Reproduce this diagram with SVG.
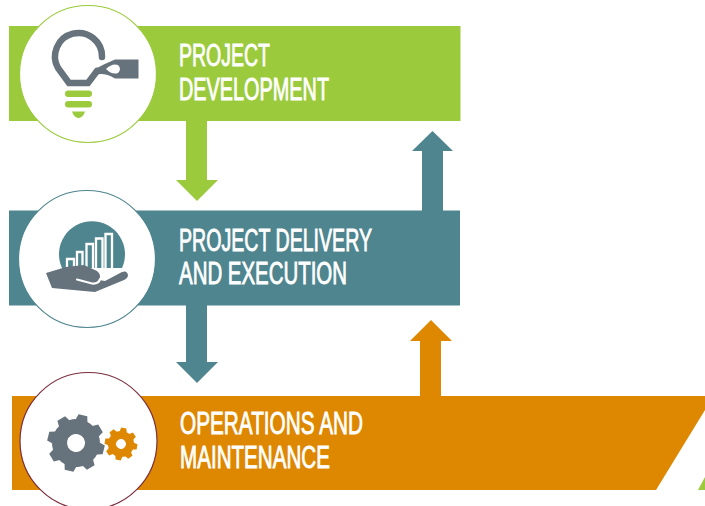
<svg xmlns="http://www.w3.org/2000/svg" xmlns:xlink="http://www.w3.org/1999/xlink" width="705" height="506" viewBox="0 0 705 506">
<style>
.t{font-family:"Liberation Sans",Arial,sans-serif;font-size:32px;fill:#fff;stroke:#fff;stroke-width:.9}
.c{fill:#fff;stroke-width:1.2}
.gray{fill:#66727c}
.green{fill:#9bcb3c}
.teal{fill:#4e858e}
.orange{fill:#de8700}
</style>
<defs>
<path id="tb" d="M20 -6.100L22.700 -6.100L28.600 -4.500V4.500L22.700 6.100H20Z"/>
<path id="ts" d="M10 -3.500L12.500 -3.500L16.300 -2.600V2.600L12.500 3.500H10Z"/>
</defs>
<rect width="705" height="506" fill="#fff"/>
<g id="connectors">
<path class="green" d="M186 120H207V180H218L197 201L176 180H186Z"/>
<path class="teal" d="M186 305H207V362H218L197 383L176 362H186Z"/>
<path class="teal" d="M422 211V151H412L432.500 131L453 151H443V211Z"/>
<path class="orange" d="M420 397V341H410L431 320L452 341H441V397Z"/>
</g>
<g id="node-development">
<rect class="green" x="9" y="26" width="451.500" height="95"/>
<circle class="c" cx="88" cy="74" r="68.500" stroke="#9bcb3c"/>
<path d="M102 57A23.500 23.500 0 1 0 58 68L69 83H88L97 71" fill="none" stroke="#66727c" stroke-width="6.500" stroke-linecap="round"/>
<path class="gray" fill-rule="evenodd" d="M95 69Q104 64 115 59.500H138.500V78.500H115Q104 72 95 75ZM106 69Q112 63 118 65Q122 69 118 73Q112 75 106 69Z"/>
<rect class="green" x="65" y="90.500" width="27" height="6.500" rx="3.200"/>
<rect class="green" x="65" y="101" width="27" height="6.500" rx="3.200"/>
<path class="green" d="M72 111.500H85Q83 118 78.500 118Q74 118 72 111.500Z"/>
<text class="t" x="179" y="66" textLength="91" lengthAdjust="spacingAndGlyphs">PROJECT</text>
<text class="t" x="179" y="100" textLength="150" lengthAdjust="spacingAndGlyphs">DEVELOPMENT</text>
</g>
<g id="node-delivery">
<rect class="teal" x="9" y="210.500" width="451" height="95"/>
<circle class="c" cx="87" cy="259" r="68.500" stroke="#4e858e"/>
<path class="teal" d="M62 268A33 33 0 1 1 122 268Z"/>
<g fill="none" stroke="#fff" stroke-width="2.300">
<path d="M67 268V259H74V268"/>
<path d="M77 268V252H82.500V268"/>
<path d="M86.500 270V244H93V270"/>
<path d="M96 273V238.500H102.500V273"/>
<path d="M105.500 275V234H112V275"/>
</g>
<path class="gray" d="M46 273L66 267L84 265L97 271Q102 275 99 280L105 281L122 272Q127 270 128 275Q128 278 124 280L95 292L52 288Z"/>
<path d="M77 279.500L92 283.500Q99 284 100 279" fill="none" stroke="#fff" stroke-width="2.200" stroke-linecap="round"/>
<text class="t" x="179" y="251" textLength="193" lengthAdjust="spacingAndGlyphs">PROJECT DELIVERY</text>
<text class="t" x="179" y="284" textLength="168" lengthAdjust="spacingAndGlyphs">AND EXECUTION</text>
</g>
<g id="node-operations">
<path class="orange" d="M12 396H705V410L656 490H12Z"/>
<path class="green" d="M698 490L705 477V490Z"/>
<circle class="c" cx="88.500" cy="441" r="68.500" stroke="#7b2e3e"/>
<g class="gray" transform="translate(76 443) rotate(14)">
<circle r="24"/>
<use xlink:href="#tb"/><use xlink:href="#tb" transform="rotate(45)"/><use xlink:href="#tb" transform="rotate(90)"/><use xlink:href="#tb" transform="rotate(135)"/><use xlink:href="#tb" transform="rotate(180)"/><use xlink:href="#tb" transform="rotate(225)"/><use xlink:href="#tb" transform="rotate(270)"/><use xlink:href="#tb" transform="rotate(315)"/>
<circle r="9" fill="#fff"/>
</g>
<g class="orange" transform="translate(121 444) rotate(10)">
<circle r="13"/>
<use xlink:href="#ts"/><use xlink:href="#ts" transform="rotate(45)"/><use xlink:href="#ts" transform="rotate(90)"/><use xlink:href="#ts" transform="rotate(135)"/><use xlink:href="#ts" transform="rotate(180)"/><use xlink:href="#ts" transform="rotate(225)"/><use xlink:href="#ts" transform="rotate(270)"/><use xlink:href="#ts" transform="rotate(315)"/>
<circle r="5" fill="#fff"/>
</g>
<text class="t" x="180" y="434" textLength="183" lengthAdjust="spacingAndGlyphs">OPERATIONS AND</text>
<text class="t" x="180" y="468" textLength="150" lengthAdjust="spacingAndGlyphs">MAINTENANCE</text>
</g>
</svg>
